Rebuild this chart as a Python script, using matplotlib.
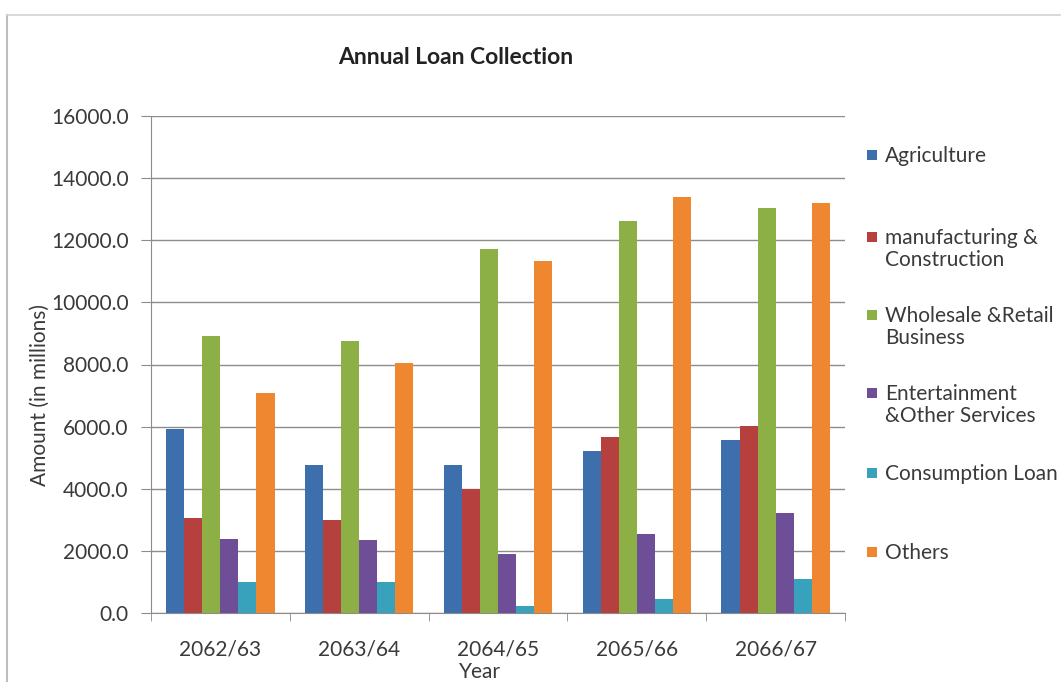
import matplotlib
matplotlib.use('Agg')
import matplotlib.pyplot as plt
from matplotlib.patches import Rectangle
from matplotlib.lines import Line2D
import numpy as np

plt.rcParams['font.family'] = ['Lato', 'DejaVu Sans']

years = ['2062/63', '2063/64', '2064/65', '2065/66', '2066/67']
sectors = ['Agriculture', 'manufacturing &\nConstruction', 'Wholesale &Retail\nBusiness',
           'Entertainment\n&Other Services', 'Consumption Loan', 'Others']

agriculture = [5920, 4760, 4760, 5200, 5560]
manufacturing = [3050, 3010, 3990, 5650, 6030]
wholesale = [8910, 8770, 11720, 12620, 13040]
entertainment = [2380, 2350, 1900, 2550, 3210]
consumption = [1000, 1000, 240, 440, 1110]
others = [7090, 8060, 11320, 13400, 13200]

series = [agriculture, manufacturing, wholesale, entertainment, consumption, others]
colors = ['#3D6FAD', '#B5403D', '#8CAF46', '#6F4E98', '#38A2BC', '#EF8730']

W, H = 1061, 682
FS = 15
fig = plt.figure(figsize=(W / 100, H / 100), dpi=100)
fig.patch.set_facecolor('white')

# chart frame (left and top edges visible)
fig.add_artist(Line2D([7 / W, 7 / W], [0, 1 - 15 / H], color='#BDBDBD', lw=1.5))
fig.add_artist(Line2D([7 / W, 1], [1 - 15 / H, 1 - 15 / H], color='#D3D3D3', lw=1.2))

ax = fig.add_axes([151 / W, (H - 613) / H, (845 - 151) / W, (613 - 116) / H])

x = np.arange(len(years))
bw = 0.13
for i, (vals, c) in enumerate(zip(series, colors)):
    ax.bar(x + (i - 2.5) * bw, vals, width=bw, color=c, zorder=3)

ax.set_xlim(-0.5, len(years) - 0.5)
ax.set_ylim(0, 16000)
ax.set_yticks(np.arange(0, 16001, 2000))
ax.set_yticklabels([f'{v:.1f}' for v in np.arange(0, 16001, 2000)])
ax.yaxis.grid(True, color='#8C8C8C', lw=1)
ax.set_axisbelow(True)

ax.set_xticks(x)
ax.set_xticklabels(years)
ax.set_xticks(np.arange(-0.5, len(years)), minor=True)
ax.tick_params(axis='x', which='major', length=0, pad=19)
ax.tick_params(axis='x', which='minor', length=6, color='#8C8C8C', direction='out')
ax.tick_params(axis='y', length=7, color='#8C8C8C', pad=9)
ax.tick_params(labelsize=FS, labelcolor='#3A3A3A')

for s in ['top', 'right']:
    ax.spines[s].set_visible(False)
for s in ['left', 'bottom']:
    ax.spines[s].set_color('#8C8C8C')

fig.text(456 / W, 1 - 58 / H, 'Annual Loan Collection', ha='center', va='center',
         fontsize=16.5, fontweight='bold', color='#222222')
fig.text(40 / W, 1 - 395 / H, 'Amount (in millions)', rotation=90, ha='center',
         va='center', fontsize=FS, color='#3A3A3A')
fig.text(480 / W, 1 - 672 / H, 'Year', ha='center', va='center',
         fontsize=FS, color='#3A3A3A')

# legend entries
leg_y = [155, 237, 315, 393, 473, 552]
line_h = 24
for lab, c, y in zip(sectors, colors, leg_y):
    fig.add_artist(Rectangle((867 / W, 1 - (y + 5) / H), 10 / W, 10 / H,
                             facecolor=c, edgecolor='none'))
    fig.text(885 / W, 1 - (y - line_h / 2 + 3) / H, lab, ha='left', va='top',
             fontsize=FS, color='#3A3A3A', linespacing=1.15)

fig.savefig('out.png', dpi=100)
